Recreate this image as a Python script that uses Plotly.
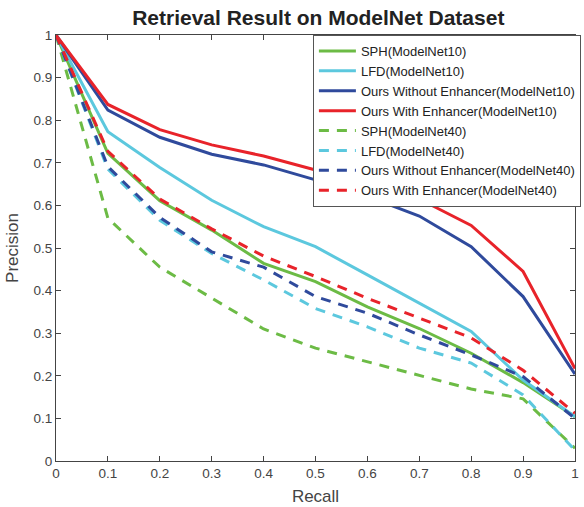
import plotly.graph_objects as go

recall = [0, 0.1, 0.2, 0.3, 0.4, 0.5, 0.6, 0.7, 0.8, 0.9, 1.0]

sph10 = [1.0, 0.722, 0.611, 0.542, 0.464, 0.421, 0.362, 0.311, 0.253, 0.184, 0.104]
lfd10 = [1.0, 0.773, 0.689, 0.612, 0.550, 0.503, 0.437, 0.371, 0.304, 0.190, 0.104]
ours_wo10 = [1.0, 0.824, 0.760, 0.720, 0.695, 0.660, 0.621, 0.575, 0.503, 0.386, 0.204]
ours_w10 = [1.0, 0.837, 0.778, 0.742, 0.716, 0.683, 0.658, 0.615, 0.553, 0.445, 0.217]

sph40 = [1.0, 0.570, 0.455, 0.382, 0.310, 0.265, 0.233, 0.202, 0.169, 0.146, 0.030]
lfd40 = [1.0, 0.685, 0.565, 0.487, 0.425, 0.358, 0.315, 0.265, 0.230, 0.155, 0.025]
ours_wo40 = [1.0, 0.691, 0.572, 0.491, 0.455, 0.386, 0.347, 0.296, 0.249, 0.198, 0.100]
ours_w40 = [1.0, 0.727, 0.615, 0.545, 0.481, 0.433, 0.382, 0.335, 0.289, 0.213, 0.112]

names = [
    "SPH(ModelNet10)", "LFD(ModelNet10)",
    "Ours Without Enhancer(ModelNet10)", "Ours With Enhancer(ModelNet10)",
    "SPH(ModelNet40)", "LFD(ModelNet40)",
    "Ours Without Enhancer(ModelNet40)", "Ours With Enhancer(ModelNet40)",
]
series = [sph10, lfd10, ours_wo10, ours_w10, sph40, lfd40, ours_wo40, ours_w40]
colors = ["#6cbb45", "#5cc8de", "#2f4a9c", "#e8232a"] * 2
dashes = ["solid"] * 4 + ["10px,8px"] * 4

fig = go.Figure()
for n, s, c, d in zip(names, series, colors, dashes):
    fig.add_trace(go.Scatter(x=recall, y=s, mode="lines", name=n,
                             line=dict(color=c, width=3, dash=d)))

font_family = "Liberation Sans, Arial, Helvetica, sans-serif"
axis_common = dict(
    range=[0, 1], dtick=0.1, ticks="inside", ticklen=5, tickwidth=1,
    tickcolor="#444", showline=True, linecolor="#444", linewidth=1,
    mirror="allticks", showgrid=False, zeroline=False,
    tickfont=dict(family=font_family, size=13.5, color="#444"),
)
fig.update_layout(
    width=584, height=507,
    margin=dict(l=56, r=3, t=35, b=46),
    paper_bgcolor="white", plot_bgcolor="white",
    title=dict(text="<b>Retrieval Result on ModelNet Dataset</b>",
               x=0.545, xanchor="center", y=0.966, yanchor="middle",
               font=dict(family=font_family, size=21, color="#222")),
    xaxis=dict(title=dict(text="Recall", standoff=9,
                          font=dict(family=font_family, size=17, color="#444")),
               **axis_common),
    yaxis=dict(title=dict(text="Precision", standoff=10,
                          font=dict(family=font_family, size=17, color="#444")),
               **axis_common),
    legend=dict(x=0.495, y=1.0, xanchor="left", yanchor="top",
                bgcolor="white", bordercolor="#555", borderwidth=1,
                font=dict(family=font_family, size=13, color="#222"),
                itemwidth=37, tracegroupgap=0),
    showlegend=True,
)

fig.write_html("out.html", config={"displayModeBar": False},
               post_script="document.body.style.margin='0px';document.body.style.overflow='hidden';")
